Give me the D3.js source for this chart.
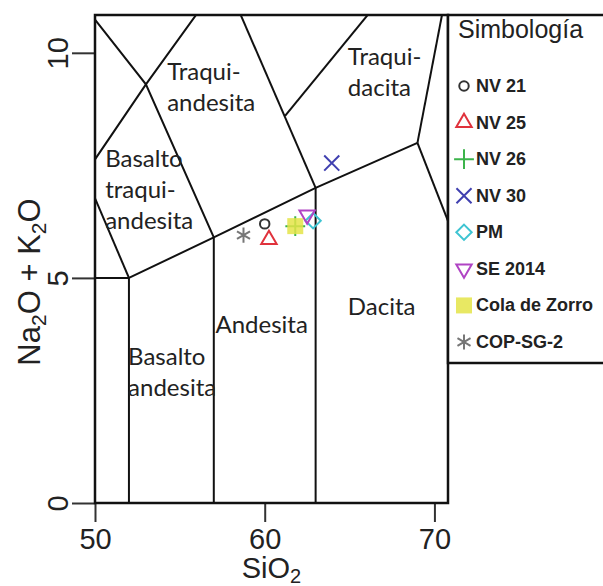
<!DOCTYPE html>
<html>
<head>
<meta charset="utf-8">
<script src="https://cdn.jsdelivr.net/npm/d3@7"></script>
<style>
  body { margin: 0; background: #fff; }
  text { fill: #222; }
</style>
</head>
<body>
<svg id="chart" width="603" height="586"></svg>
<script>
// samples (SiO2 vs Na2O + K2O, wt%)
const samples = ['NV 21', 'NV 25', 'NV 26', 'NV 30', 'PM', 'SE 2014', 'Cola de Zorro', 'COP-SG-2'];
const sio2    = [60.0, 60.25, 61.8, 63.95, 62.85, 62.5, 61.8, 58.75];
const alkalis = [6.2, 5.85, 6.15, 7.55, 6.27, 6.4, 6.15, 5.95];

const xTicks = [50, 60, 70];
const yTicks = [0, 5, 10];

// TAS field boundaries (SiO2, Na2O + K2O)
const boundaries = [
  [[52, 0], [52, 5]],
  [[57, 0], [57, 5.9]],
  [[63, 0], [63, 7]],
  [[45, 5], [52, 5]],
  [[52, 5], [57, 5.9], [63, 7], [69, 8]],
  [[52, 5], [49.4, 7.3]],
  [[49.4, 7.3], [53, 9.3], [57.6, 11.7]],
  [[57, 5.9], [53, 9.3], [48.4, 11.5]],
  [[63, 7], [57.6, 11.7]],
  [[61.2, 8.6], [67.5, 11.5]],
  [[69, 8], [71.8, 13.5]],
  [[69, 8], [77.3, 0]]
];

// field names and where they sit (first baseline)
const fieldNames = [['Traqui-', 'andesita'], ['Basalto', 'traqui-', 'andesita'], ['Traqui-', 'dacita'],
                    ['Dacita'], ['Andesita'], ['Basalto', 'andesita']];
const fieldSio2 = [54.25, 50.6, 64.9, 64.9, 57.1, 51.95];
const fieldAlk  = [9.4, 7.47, 9.73, 4.18, 3.78, 3.07];

// marker styles, same order as samples
const colors = ['#333333', '#e0323c', '#3cb44b', '#4040b0', '#3ec4d2', '#b044c4', '#e4e448', '#777777'];
const shapes = ['circle', 'triangle', 'plus', 'x', 'diamond', 'triangleDown', 'square', 'asterisk'];

const svg = d3.select('#chart');
const plotL = 95, plotR = 448, plotT = 15, plotB = 503;

const x = d3.scaleLinear().domain([50, 70.8]).range([plotL, plotR]);
const y = d3.scaleLinear().domain([0, 10.84]).range([plotB, plotT]);

const symbolPath = (shape) => {
  switch (shape) {
    case 'circle': return d3.symbol(d3.symbolCircle, 70)();
    case 'triangle': return d3.symbol(d3.symbolTriangle2, 170)();
    case 'triangleDown': return d3.symbol(d3.symbolTriangle2, 170)();
    case 'plus': return d3.symbol(d3.symbolPlus, 130)();
    case 'x': return d3.symbol(d3.symbolX, 150)();
    case 'diamond': return d3.symbol(d3.symbolDiamond2, 150)();
    case 'square': return d3.symbol(d3.symbolSquare, 256)();
    case 'asterisk': return d3.symbol(d3.symbolAsterisk, 160)();
  }
};

const drawMarker = (sel, i) => {
  const filled = shapes[i] === 'square';
  sel.append('path')
    .attr('d', symbolPath(shapes[i]))
    .attr('transform', shapes[i] === 'triangleDown' ? 'rotate(180)' : null)
    .attr('fill', filled ? colors[i] : 'none')
    .attr('fill-opacity', filled ? 0.85 : null)
    .attr('stroke', filled ? 'none' : colors[i])
    .attr('stroke-width', 2);
};

svg.append('clipPath').attr('id', 'plot-clip')
  .append('rect')
  .attr('x', plotL).attr('y', plotT)
  .attr('width', plotR - plotL).attr('height', plotB - plotT);

// field boundaries
const line = d3.line().x(d => x(d[0])).y(d => y(d[1]));
svg.append('g')
  .attr('clip-path', 'url(#plot-clip)')
  .selectAll('path')
  .data(boundaries)
  .join('path')
  .attr('d', line)
  .attr('fill', 'none')
  .attr('stroke', '#111')
  .attr('stroke-width', 2);

// field names
const names = svg.append('g')
  .attr('font-family', 'Lato, sans-serif')
  .attr('font-size', 24);
fieldNames.forEach((rows, i) => {
  const t = names.append('text')
    .attr('x', x(fieldSio2[i]))
    .attr('y', y(fieldAlk[i]));
  rows.forEach((r, j) => {
    t.append('tspan')
      .attr('x', x(fieldSio2[i]))
      .attr('dy', j === 0 ? 0 : 31)
      .text(r);
  });
});

// samples (Cola de Zorro square sits over NV 26)
const order = [2, 6, 0, 1, 3, 4, 5, 7];
order.forEach(i => {
  svg.append('g')
    .attr('transform', `translate(${x(sio2[i])},${y(alkalis[i])})`)
    .call(drawMarker, i);
});

// axes
const xAxis = svg.append('g')
  .attr('transform', `translate(0,${plotB})`)
  .call(d3.axisBottom(x).tickValues(xTicks).tickSize(19).tickFormat(d3.format('d')));
xAxis.select('.domain').remove();
xAxis.selectAll('line').attr('stroke', '#333').attr('stroke-width', 2);
xAxis.selectAll('text')
  .attr('y', 46).attr('dy', 0)
  .attr('font-family', '"Liberation Sans", Arial, sans-serif')
  .attr('font-size', 29)
  .attr('fill', '#222');

const yAxis = svg.append('g')
  .attr('transform', `translate(${plotL},0)`)
  .call(d3.axisLeft(y).tickValues(yTicks).tickSize(23).tickFormat(d3.format('d')));
yAxis.select('.domain').remove();
yAxis.selectAll('line').attr('stroke', '#333').attr('stroke-width', 2);
yAxis.selectAll('text')
  .attr('x', 0).attr('dy', 0)
  .attr('transform', 'translate(-27,0) rotate(-90)')
  .attr('text-anchor', 'middle')
  .attr('font-family', '"Liberation Sans", Arial, sans-serif')
  .attr('font-size', 29)
  .attr('fill', '#222');

// plot frame
svg.append('rect')
  .attr('x', plotL).attr('y', plotT)
  .attr('width', plotR - plotL).attr('height', plotB - plotT)
  .attr('fill', 'none')
  .attr('stroke', '#111')
  .attr('stroke-width', 2.5);

// axis titles
const xTitle = svg.append('text')
  .attr('x', (plotL + plotR) / 2)
  .attr('y', 578)
  .attr('text-anchor', 'middle')
  .attr('font-family', '"Liberation Sans", Arial, sans-serif')
  .attr('font-size', 29);
xTitle.append('tspan').text('SiO');
xTitle.append('tspan').attr('font-size', 20).attr('dy', 5).text('2');

const yTitle = svg.append('text')
  .attr('transform', 'translate(40,282) rotate(-90)')
  .attr('text-anchor', 'middle')
  .attr('font-family', '"Liberation Sans", Arial, sans-serif')
  .attr('font-size', 31);
yTitle.append('tspan').text('Na');
yTitle.append('tspan').attr('font-size', 21).attr('dy', 6).text('2');
yTitle.append('tspan').attr('dy', -6).text('O + K');
yTitle.append('tspan').attr('font-size', 21).attr('dy', 6).text('2');
yTitle.append('tspan').attr('dy', -6).text('O');

// legend
const legend = svg.append('g');
legend.append('rect')
  .attr('x', plotR).attr('y', plotT)
  .attr('width', 170).attr('height', 348)
  .attr('fill', '#fff')
  .attr('stroke', '#111')
  .attr('stroke-width', 2.5);
legend.append('text')
  .attr('x', 458).attr('y', 38)
  .attr('font-family', '"Liberation Sans", Arial, sans-serif')
  .attr('font-size', 25)
  .text('Simbología');

const legendY = d3.scalePoint().domain(samples).range([86, 342]);
samples.forEach((s, i) => {
  const row = legend.append('g')
    .attr('transform', `translate(464,${legendY(s)})`);
  row.call(drawMarker, i);
  row.append('text')
    .attr('x', 12).attr('y', 6)
    .attr('font-family', '"Liberation Sans", Arial, sans-serif')
    .attr('font-weight', 'bold')
    .attr('font-size', 18)
    .attr('fill', '#333')
    .text(s);
});
</script>
</body>
</html>
